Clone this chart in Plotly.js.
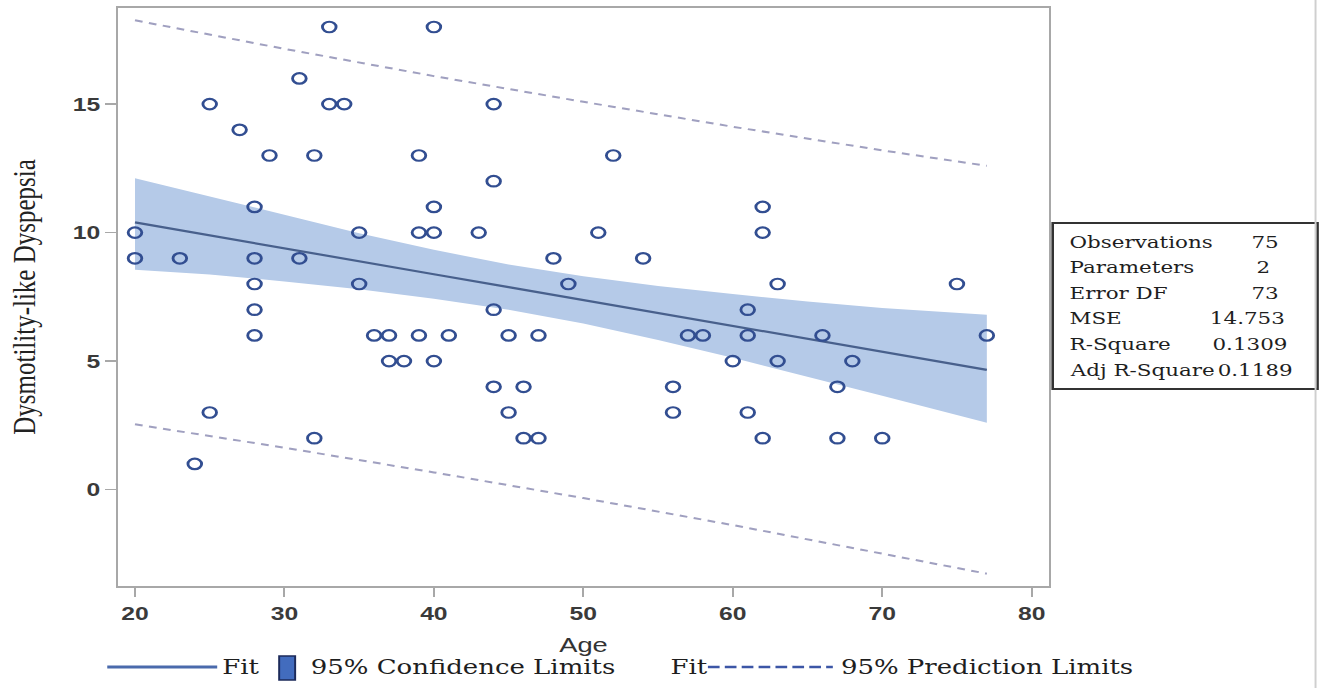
<!DOCTYPE html>
<html>
<head>
<meta charset="utf-8">
<script src="https://cdn.plot.ly/plotly-3.0.1.min.js"></script>
<style>
  html, body { margin: 0; padding: 0; background: #ffffff; }
  #wrap { width: 1319px; height: 688px; overflow: hidden; position: relative; background: #fff; }
  #chart { width: 1015px; height: 688px; transform-origin: 0 0; }
</style>
</head>
<body>
<div id="wrap"><div id="chart"></div></div>
<script>
// ---------------- data ----------------
const ages   = [20,20,23,24,25,25,27,28,28,28,28,28,29,31,31,32,32,33,33,34,35,35,36,37,37,38,39,39,39,40,40,40,40,41,43,44,44,44,44,45,45,46,46,47,47,48,49,51,52,54,56,56,57,58,60,61,61,61,62,62,62,63,63,66,67,67,68,70,75,77];
const scores = [10,9,9,1,15,3,14,11,9,8,7,6,13,16,9,13,2,18,15,15,10,8,6,6,5,5,13,10,6,18,11,10,5,6,10,15,12,7,4,6,3,4,2,6,2,9,8,10,13,9,4,3,6,6,5,7,6,3,11,10,2,8,5,6,4,2,5,2,8,6];

const fitAge   = [20,25,30,35,40,45,50,55,60,65,70,77];
const fitValue = [10.40,9.89,9.39,8.89,8.38,7.88,7.38,6.87,6.37,5.86,5.36,4.66];
const ciUpper  = [12.12,11.41,10.68,9.98,9.33,8.76,8.30,7.92,7.61,7.32,7.07,6.80];
const ciLower  = [8.56,8.37,8.10,7.80,7.43,7.00,6.46,5.82,5.13,4.40,3.65,2.60];

const piAge    = [20,30,40,50,60,70,77];
const piUpper  = [18.26,17.15,16.09,15.09,14.12,13.20,12.60];
const piLower  = [2.54,1.63,0.67,-0.33,-1.38,-2.48,-3.27];

const xTicks = [20,30,40,50,60,70,80];
const yTicks = [0,5,10,15];

const statLabels = ['Observations','Parameters','Error DF','MSE','R-Square','Adj R-Square'];
const statValues = ['75','2','73','14.753','0.1309','0.1189'];

const legendLabels = ['Fit','95% Confidence Limits','Fit','95% Prediction Limits'];

const xTitle = 'Age';
const yTitle = 'Dysmotility-like Dyspepsia';

// ---------------- geometry (reference pixel frame) ----------------
const W = 1319, H = 688;
const S = 1.30;                         // horizontal stretch of the reference image
const innerW = Math.round(W / S);
const chartDiv = document.getElementById('chart');
chartDiv.style.width = innerW + 'px';
chartDiv.style.transform = 'scaleX(' + (W / innerW) + ')';
const SX = W / innerW;

const PL = 118, PR = 1049, PT = 8, PB = 586;   // plot area in reference px
const px = r => (r - PL) / (PR - PL);
const py = r => (PB - r) / (PB - PT);

const serif = 'DejaVu Serif, serif';

// ---------------- traces ----------------
const traces = [
  { x: fitAge, y: ciLower, mode: 'lines', line: { width: 0, color: 'rgba(0,0,0,0)' },
    hoverinfo: 'skip', showlegend: false },
  { x: fitAge, y: ciUpper, mode: 'lines', fill: 'tonexty', fillcolor: 'rgb(181,202,232)',
    line: { width: 0, color: 'rgba(0,0,0,0)' }, hoverinfo: 'skip', showlegend: false },
  { x: piAge, y: piUpper, mode: 'lines', line: { color: 'rgb(160,160,192)', width: 2, dash: '6px,5px' },
    showlegend: false },
  { x: piAge, y: piLower, mode: 'lines', line: { color: 'rgb(160,160,192)', width: 2, dash: '6px,5px' },
    showlegend: false },
  { x: fitAge, y: fitValue, mode: 'lines', line: { color: 'rgb(72,96,140)', width: 2.2 },
    showlegend: false },
  { x: ages, y: scores, mode: 'markers', type: 'scatter',
    marker: { symbol: 'circle-open', size: 10.5, color: 'rgb(50,78,145)', line: { width: 2.2 } },
    showlegend: false }
];

// ---------------- annotations & shapes ----------------
const annotations = [];
const shapes = [];

// stats box
shapes.push({ type: 'rect', xref: 'paper', yref: 'paper',
  x0: px(1053), x1: px(1318), y0: py(223), y1: py(389),
  line: { color: '#333', width: 2 }, fillcolor: 'rgba(255,255,255,0)' });
const rowY = [242, 267, 293, 319, 344.5, 370.5];
const valX = [1265, 1264, 1265, 1248, 1250, 1256];
statLabels.forEach((t, i) => {
  annotations.push({ xref: 'paper', yref: 'paper', x: px(1067), y: py(rowY[i]),
    xanchor: 'left', yanchor: 'middle', text: t, showarrow: false,
    font: { family: serif, size: 16.5, color: '#1e1e1e' } });
  annotations.push({ xref: 'paper', yref: 'paper', x: px(valX[i]), y: py(rowY[i]),
    xanchor: 'center', yanchor: 'middle', text: statValues[i], showarrow: false,
    font: { family: serif, size: 16.5, color: '#1e1e1e' } });
});

// right border line of the image
shapes.push({ type: 'line', xref: 'paper', yref: 'paper',
  x0: px(1316), x1: px(1316), y0: py(0), y1: py(688),
  line: { color: '#cfcfcf', width: 1.5 } });

// legend
const LY = 667;
shapes.push({ type: 'line', xref: 'paper', yref: 'paper', x0: px(107), x1: px(217), y0: py(LY), y1: py(LY),
  line: { color: 'rgb(74,106,172)', width: 3 } });
shapes.push({ type: 'rect', xref: 'paper', yref: 'paper', x0: px(279), x1: px(295), y0: py(656), y1: py(680),
  line: { color: 'rgb(28,42,90)', width: 1.5 }, fillcolor: 'rgb(66,108,190)' });
shapes.push({ type: 'line', xref: 'paper', yref: 'paper', x0: px(708), x1: px(833), y0: py(LY), y1: py(LY),
  line: { color: 'rgb(60,86,166)', width: 2.5, dash: '9px,4px' } });
const legX = [220, 308, 668, 839];
legendLabels.forEach((t, i) => {
  annotations.push({ xref: 'paper', yref: 'paper', x: px(legX[i]), y: py(LY),
    xanchor: 'left', yanchor: 'middle', text: t, showarrow: false,
    font: { family: serif, size: 20, color: '#1e1e1e' } });
});

const layout = {
  width: innerW, height: H,
  margin: { l: PL / SX, r: (W - PR) / SX, t: PT, b: H - PB, pad: 0 },
  paper_bgcolor: '#ffffff', plot_bgcolor: '#ffffff',
  showlegend: false,
  xaxis: {
    range: [18.88, 81.14], tickvals: xTicks, ticktext: xTicks.map(String),
    showgrid: false, zeroline: false, showline: true, mirror: true,
    linecolor: 'rgb(168,168,168)', linewidth: 2,
    ticks: 'outside', ticklen: 9, tickwidth: 1.5, tickcolor: 'rgb(168,168,168)',
    tickfont: { family: 'Liberation Sans, Arial, sans-serif', size: 19, color: '#3a3a3a', weight: 'bold' },
    title: { text: xTitle, standoff: 15,
      font: { family: 'Liberation Sans, Arial, sans-serif', size: 21, color: '#333' } }
  },
  yaxis: {
    range: [-3.75, 18.74], tickvals: yTicks, ticktext: yTicks.map(String),
    showgrid: false, zeroline: false, showline: true, mirror: true,
    linecolor: 'rgb(168,168,168)', linewidth: 2,
    ticks: 'outside', ticklen: 8, tickwidth: 1.5, tickcolor: 'rgb(168,168,168)',
    tickfont: { family: 'Liberation Sans, Arial, sans-serif', size: 19, color: '#3a3a3a', weight: 'bold' },
    title: { text: yTitle, standoff: 21,
      font: { family: 'Liberation Serif, Times New Roman, serif', size: 25, color: '#222' } }
  },
  annotations: annotations,
  shapes: shapes
};

Plotly.newPlot(chartDiv, traces, layout, { displayModeBar: false, staticPlot: true });
</script>
</body>
</html>
